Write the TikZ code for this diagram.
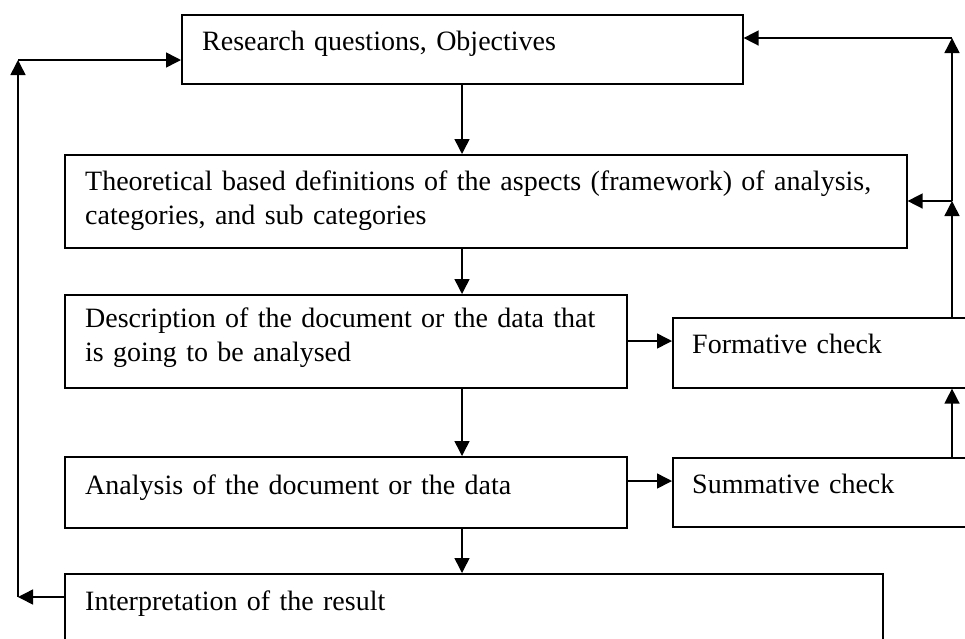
\documentclass[tikz,border=0pt]{standalone}
\usepackage{fontspec}
\setmainfont{Liberation Serif}
\usetikzlibrary{arrows.meta,calc}
\tikzset{
  box/.style={draw, line width=1.6pt, rectangle, anchor=north west, inner sep=0pt},
  txt/.style={anchor=base west, inner sep=0pt, align=left, text width=#1,
              font=\fontsize{28}{33.5}\selectfont},
  txt/.default=880pt,
  conn/.style={line width=1.5pt, -{Triangle[length=15pt,width=15pt]}},
  plain/.style={line width=1.5pt}
}
\begin{document}
\begin{tikzpicture}[x=1pt,y=-1pt]
\useasboundingbox (0,0) rectangle (965,638);
\clip (0,0) rectangle (965,638);
\fill[white] (0,0) rectangle (965,638);
% boxes
\node[box, minimum width=561pt, minimum height=69pt] (b1) at (181,14) {};
\node[box, minimum width=842pt, minimum height=93pt] (b2) at (64,154) {};
\node[box, minimum width=562pt, minimum height=93pt] (b3) at (64,294) {};
\node[box, minimum width=562pt, minimum height=71pt] (b4) at (64,456) {};
\node[box, minimum width=818pt, minimum height=100pt] (b5) at (64,573) {};
\node[box, minimum width=340pt, minimum height=70pt] (f) at (672,317) {};
\node[box, minimum width=340pt, minimum height=69pt] (s) at (672,457) {};
% texts
\node[txt] (t1) at ($(b1.north west)+(21,36)$) {Research questions, Objectives};
\node[txt] (t2) at ($(b2.north west)+(21,36.5)$) {\makebox[800pt][s]{Theoretical based definitions of the aspects (framework) of analysis,}\\categories, and sub categories};
\node[txt] (t3) at ($(b3.north west)+(21,33.5)$) {\makebox[520pt][s]{Description of the document or the data that}\\is going to be analysed};
\node[txt] (t4) at ($(b4.north west)+(21,38)$) {Analysis of the document or the data};
\node[txt] (t5) at ($(b5.north west)+(21,37)$) {Interpretation of the result};
\node[txt] (tf) at ($(f.north west)+(20,36)$) {Formative check};
\node[txt] (ts) at ($(s.north west)+(20,36)$) {Summative check};
% helper coordinates
\coordinate (xm) at (462,0);
\coordinate (xr) at (952,0);
\coordinate (xl) at (18,0);
\coordinate (r1) at (952,38);
\coordinate (r2) at (952,201);
\coordinate (l1) at (18,60);
\coordinate (l2) at (18,597);
% vertical flow
\draw[conn] (b1.south -| xm) -- (b2.north -| xm);
\draw[conn] (b2.south -| xm) -- (b3.north -| xm);
\draw[conn] (b3.south -| xm) -- (b4.north -| xm);
\draw[conn] (b4.south -| xm) -- (b5.north -| xm);
% to checks
\coordinate (a3) at (626,341);
\coordinate (a4) at (626,481);
\draw[conn] (a3) -- (f.west |- a3);
\draw[conn] (a4) -- (s.west |- a4);
% right feedback
\draw[conn] (s.north -| xr) -- (f.south -| xr);
\draw[conn] (f.north -| xr) -- (r2);
\draw[conn] (r2) -- (r1);
\draw[conn] (r1) -- (b1.east |- r1);
\draw[conn] (r2) -- (b2.east |- r2);
% left feedback
\draw[conn] (b5.west |- l2) -- (l2);
\draw[conn] (l2) -- (l1);
\draw[conn] (l1) -- (b1.west |- l1);
\end{tikzpicture}
\end{document}
